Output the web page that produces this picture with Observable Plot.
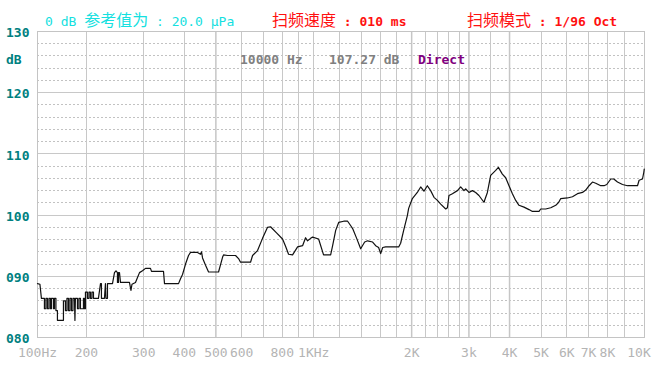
<!DOCTYPE html>
<html><head><meta charset="utf-8">
<script src="https://cdn.jsdelivr.net/npm/d3@7"></script>
<script src="https://cdn.jsdelivr.net/npm/@observablehq/plot@0.6"></script>
<style>
html,body{margin:0;padding:0;background:#fff;}
#chart{width:654px;height:365px;}
</style></head><body><div id="chart"></div>
<script>
const freqHz = [100,103.5,105.7,110.3,110.3,112.7,112.7,115.1,115.1,117.6,117.6,120.1,120.1,121.8,121.8,125.3,125.3,127.1,127.1,129.8,
129.8,132.6,132.6,144.4,144.4,148.5,148.5,151.7,151.7,155.0,155.0,158.3,158.3,161.7,161.7,165.2,165.2,168.7,169.9,171.1,
176.1,176.1,179.8,179.8,183.7,183.7,191.7,191.7,194.4,194.4,197.2,197.2,201.4,201.4,203.6,203.6,205.7,205.7,207.9,207.9,
210.2,210.2,217.7,220.9,222.4,222.4,227.2,228.8,229.6,232.1,232.1,240.5,243.9,246.5,249.1,249.1,250.9,250.9,252.7,254.5,
271.2,274.1,276.1,283.0,287.1,291.2,297.4,303.8,314.7,317.0,345.1,347.6,383.9,389.3,394.9,403.4,412.0,417.9,439.1,448.6,
451.8,455.0,464.8,474.8,509.6,524.2,527.9,543.0,574.8,587.1,595.5,639.2,648.4,671.6,695.8,720.9,736.4,768.4,801.7,819.0,
836.6,860.7,891.8,923.9,943.7,957.2,977.8,991.8,1035,1072,1127,1143,1168,1193,1236,1271,1298,1317,1355,1394,
1434,1464,1517,1550,1583,1606,1629,1664,1824,1850,1890,1940,1958,2010,2082,2132,2182,2235,2288,2343,
2400,2457,2546,2576,2605,2669,2765,2830,2897,2932,3001,3074,3147,3221,3337,3419,3500,3626,3696,3802,
3892,3985,4082,4178,4277,4431,4591,4703,4928,4988,5168,5355,5548,5667,5748,6027,6245,6470,6703,6861,
7024,7195,7365,7631,7811,7962,8191,8367,8590,8900,9220,9897,10010,10254,10349,10380];
const levelDb = [88.8,88.7,86.4,86.4,84.7,84.7,86.4,86.4,84.7,84.7,86.4,86.4,84.7,84.7,86.4,86.4,84.7,84.7,86.4,86.4,
84.4,84.4,82.8,82.8,86.0,86.0,84.4,84.4,86.4,86.4,84.4,84.4,86.4,86.4,84.4,84.4,86.4,86.4,82.8,86.4,
86.4,84.7,84.7,86.4,86.4,84.7,84.7,86.4,86.4,84.7,84.7,87.4,87.4,86.4,86.4,87.4,87.4,86.4,86.4,87.4,
87.4,86.4,86.4,88.8,88.8,86.4,86.4,88.8,86.4,86.4,88.8,88.8,90.6,90.9,90.6,89.0,89.0,90.6,90.6,89.0,
89.0,87.7,88.7,89.0,89.8,90.6,90.9,91.3,91.3,90.8,90.8,88.8,88.8,89.6,90.3,92.0,93.4,93.9,93.9,93.6,
94.0,93.0,91.8,90.7,90.7,93.1,93.5,93.4,93.4,92.9,92.3,92.3,93.4,94.2,96.2,98.0,98.1,97.1,96.1,94.9,
93.6,93.5,94.8,95.0,96.3,95.8,96.2,96.4,96.1,93.5,93.5,95.0,97.5,98.8,99.0,99.0,98.3,97.8,96.2,94.5,
95.6,95.8,95.6,95.0,94.7,93.7,94.7,94.8,94.8,95.4,97.5,99.9,101.1,102.7,103.7,104.6,103.9,104.8,104.0,102.9,
102.4,101.8,101.0,101.2,103.2,103.5,104.0,104.6,104.0,104.3,103.7,104.0,103.7,103.2,102.1,103.7,106.5,107.3,107.8,106.7,
106.1,104.8,103.5,102.4,101.6,101.3,100.9,100.6,100.6,101.0,101.0,101.2,101.6,102.1,102.7,102.8,103.0,103.5,103.7,104.1,
104.8,105.4,105.2,104.8,104.8,105.0,105.9,105.9,105.4,105.0,104.8,104.8,105.7,105.9,107.0,107.5];

// Axes and grid
const xDomainHz = [100, 10400];
const yDomainDb = [80, 130];
const xTickFreqs = [100,200,300,400,500,600,800,1000,2000,3000,4000,5000,6000,7000,8000,10000];
const xTickLabels = ["100Hz","200","300","400","500","600","800","1KHz","2K","3k","4K","5K","6K","7K","8K","10K"];
const yTicks = [80,90,100,110,120,130];
const yDotted = [82,84,86,88,92,94,96,98,102,104,106,108,112,114,116,118,122,124,126,128];
const gridFreqs = [200,300,400,600,700,800,900,1000,1200,1400,1600,1800,2200,2400,2600,2800,3500,5000,6000,7000,8000,9000];
const gridFreqsStrong = [500,2000,3000,4000];

// Texts
const headerRef = ["0 dB ", "参考值为", " : 20.0 μPa"];
const headerSpeed = ["", "扫频速度", " : 010 ms"];
const headerMode = ["", "扫频模式", " : 1/96 Oct"];
const readout = ["10000 Hz", "107.27 dB", "Direct"];

// The lowest octave (100–200 Hz) is drawn at half width on this analyser's log axis
const L200 = Math.log10(200);
const pos = f => f >= 200 ? Math.log10(f) : L200 - (L200 - Math.log10(f)) / 2;

const data = freqHz.map((f, i) => ({f, db: levelDb[i]}));
const labelOf = new Map(xTickFreqs.map((f, i) => [pos(f), xTickLabels[i]]));
const mono = "'DejaVu Sans Mono', 'Liberation Mono', monospace";

const plot = Plot.plot({
  width: 654, height: 365,
  marginLeft: 37, marginRight: 10, marginTop: 31, marginBottom: 28,
  style: {background: "#fff", fontFamily: mono},
  x: {type: "linear", domain: xDomainHz.map(pos), axis: null},
  y: {domain: yDomainDb, axis: null},
  marks: [
    Plot.ruleY(yDotted, {y: d => d, stroke: "#c2c2c2", strokeDasharray: "2,2", shapeRendering: "crispEdges"}),
    Plot.ruleY(yTicks, {y: d => d, stroke: "#c8c8c8", shapeRendering: "crispEdges"}),
    Plot.ruleX(gridFreqs, {x: pos, stroke: "#c8c8c8", shapeRendering: "crispEdges"}),
    Plot.ruleX(gridFreqsStrong, {x: pos, stroke: "#c6c6c6", strokeWidth: 1.5}),
    Plot.frame({stroke: "#c4c4c4", shapeRendering: "crispEdges"}),
    Plot.line(data, {x: d => pos(d.f), y: "db", stroke: "#111", strokeWidth: 1.2}),
    Plot.axisX(xTickFreqs.map(pos), {tickSize: 0, tickPadding: 10, tickFormat: d => labelOf.get(d),
      fill: "#b4b4b4", fontSize: 13, fontFamily: mono}),
    Plot.axisY(yTicks, {tickSize: 0, tickPadding: 8, tickFormat: d3.format("03d"), dy: 1.5,
      fill: "#008080", fontSize: 13, fontWeight: "bold", fontFamily: mono, label: null})
  ]
});
document.getElementById("chart").appendChild(plot);

// Header and readout annotations
const svg = d3.select(plot);
function header(parts, x, y, color, weight) {
  const t = svg.append("text").attr("x", x).attr("y", y).attr("fill", color).attr("text-anchor", "start")
    .attr("font-family", mono + ", 'Noto Sans CJK SC'").attr("font-size", 13).attr("font-weight", weight)
    .style("white-space", "pre");
  if (parts[0]) t.append("tspan").text(parts[0]);
  t.append("tspan").attr("font-family", "'Noto Sans CJK SC'").attr("font-size", 16).attr("font-weight", "normal").text(parts[1]);
  t.append("tspan").text(parts[2]);
}
header(headerRef, 45, 26, "#14e0e0", "normal");
header(headerSpeed, 272, 26, "#ff1010", "bold");
header(headerMode, 467, 26, "#ff1010", "bold");
svg.append("text").attr("x", 6).attr("y", 64).attr("fill", "#008080").attr("text-anchor", "start")
  .attr("font-family", mono).attr("font-size", 13).attr("font-weight", "bold").text("dB");
const rx = [240, 329, 418], rc = ["#808080", "#808080", "#800080"];
readout.forEach((s, i) => svg.append("text").attr("x", rx[i]).attr("y", 64).attr("fill", rc[i]).attr("text-anchor", "start")
  .attr("font-family", mono).attr("font-size", 13).attr("font-weight", "bold").style("white-space", "pre").text(s));
</script></body></html>
